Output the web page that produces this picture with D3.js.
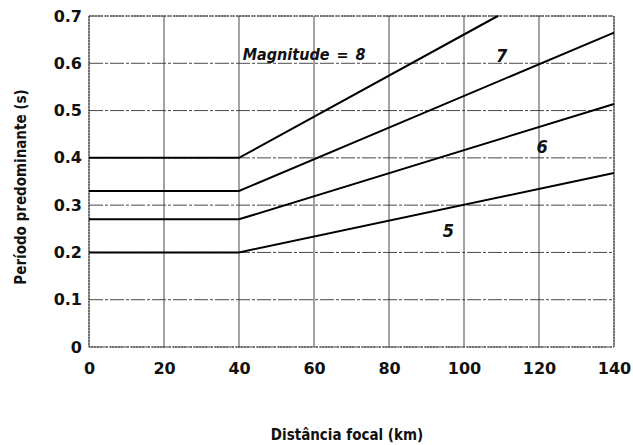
<!DOCTYPE html>
<html lang="pt">
<head>
    <meta charset="UTF-8">
    <script src="https://d3js.org/d3.v7.min.js"></script>
    <title>index</title>
    <style>
        body { margin: 0; background: #fff; }
        .tick-label { font-family: "DejaVu Sans", sans-serif; font-weight: bold; font-size: 16px; fill: #111; }
        .title { font-family: "DejaVu Sans Condensed", "Liberation Sans Narrow", sans-serif; font-stretch: condensed; font-weight: bold; font-size: 15px; fill: #111; }
        .mag { font-family: "DejaVu Sans Condensed", "Liberation Sans Narrow", sans-serif; font-stretch: condensed; font-weight: bold; font-style: italic; font-size: 16px; fill: #111; }
        .mag.num { font-size: 18px; }
    </style>
</head>
<body>
    <div id="chart"></div>
    <script>
        // distancia focal (km) e periodo (s) para cada magnitude
        var magnitudes = ['5', '6', '7', '8'];
        var distM5 = [0, 40, 140];
        var perM5 = [0.20, 0.20, 0.368];
        var distM6 = [0, 40, 140];
        var perM6 = [0.27, 0.27, 0.514];
        var distM7 = [0, 40, 140];
        var perM7 = [0.33, 0.33, 0.665];
        var distM8 = [0, 40, 109];
        var perM8 = [0.40, 0.40, 0.70];

        var xTicks = [0, 20, 40, 60, 80, 100, 120, 140];
        var yTicks = [0, 0.1, 0.2, 0.3, 0.4, 0.5, 0.6, 0.7];

        // rotulos das curvas (em unidades dos dados)
        var labelText = ['5', '6', '7', 'Magnitude = 8'];
        var labelDist = [94.3, 119.3, 108.5, 41.0];
        var labelPer = [0.233, 0.411, 0.602, 0.606];

        var width = 633, height = 445;
        var margin = {top: 16, right: 19, bottom: 98, left: 89};

        var svg = d3.select('#chart').append('svg')
            .attr('width', width)
            .attr('height', height);

        var x = d3.scaleLinear().domain([0, 140]).range([margin.left, width - margin.right]);
        var y = d3.scaleLinear().domain([0, 0.7]).range([height - margin.bottom, margin.top]);

        // grade
        svg.append('g').selectAll('line')
            .data(xTicks)
            .enter().append('line')
            .attr('x1', d => x(d)).attr('x2', d => x(d))
            .attr('y1', y(0)).attr('y2', y(0.7))
            .attr('stroke', '#333').attr('stroke-width', 0.9);

        svg.append('g').selectAll('line')
            .data(yTicks)
            .enter().append('line')
            .attr('x1', x(0)).attr('x2', x(140))
            .attr('y1', d => y(d)).attr('y2', d => y(d))
            .attr('stroke', '#333').attr('stroke-width', 0.9)
            .attr('stroke-dasharray', '14,2,3,2');

        svg.append('rect')
            .attr('x', x(0)).attr('y', y(0.7))
            .attr('width', x(140) - x(0)).attr('height', y(0) - y(0.7))
            .attr('fill', 'none').attr('stroke', '#444').attr('stroke-width', 1)
            .attr('stroke-dasharray', '2,1');

        // eixos
        var xAxis = d3.axisBottom(x).tickValues(xTicks).tickSize(0).tickPadding(16);
        var gx = svg.append('g').attr('transform', 'translate(0,' + y(0) + ')').call(xAxis);
        gx.select('.domain').remove();
        gx.selectAll('text').attr('class', 'tick-label').attr('font-size', null).attr('font-family', null);

        var yAxis = d3.axisLeft(y).tickValues(yTicks).tickSize(0).tickPadding(7)
            .tickFormat(d => d === 0 ? '0' : d3.format('.1f')(d));
        var gy = svg.append('g').attr('transform', 'translate(' + x(0) + ',0)').call(yAxis);
        gy.select('.domain').remove();
        gy.selectAll('text').attr('class', 'tick-label').attr('font-size', null).attr('font-family', null);

        // curvas
        var series = [
            distM5.map((d, i) => [d, perM5[i]]),
            distM6.map((d, i) => [d, perM6[i]]),
            distM7.map((d, i) => [d, perM7[i]]),
            distM8.map((d, i) => [d, perM8[i]])
        ];
        var line = d3.line().x(d => x(d[0])).y(d => y(d[1]));

        svg.append('g').selectAll('path')
            .data(series)
            .enter().append('path')
            .attr('d', line)
            .attr('fill', 'none')
            .attr('stroke', '#000')
            .attr('stroke-width', 2);

        svg.append('g').selectAll('text')
            .data(labelText)
            .enter().append('text')
            .attr('class', d => d.length > 1 ? 'mag' : 'mag num')
            .attr('x', (d, i) => x(labelDist[i]))
            .attr('y', (d, i) => y(labelPer[i]))
            .attr('word-spacing', 2)
            .text(d => d);

        // titulos
        svg.append('text')
            .attr('class', 'title')
            .attr('text-anchor', 'middle')
            .attr('x', 347)
            .attr('y', 440)
            .text('Distância focal (km)');

        svg.append('text')
            .attr('class', 'title')
            .attr('text-anchor', 'middle')
            .attr('transform', 'translate(26,187) rotate(-90)')
            .text('Período predominante (s)');
    </script>
</body>
</html>
